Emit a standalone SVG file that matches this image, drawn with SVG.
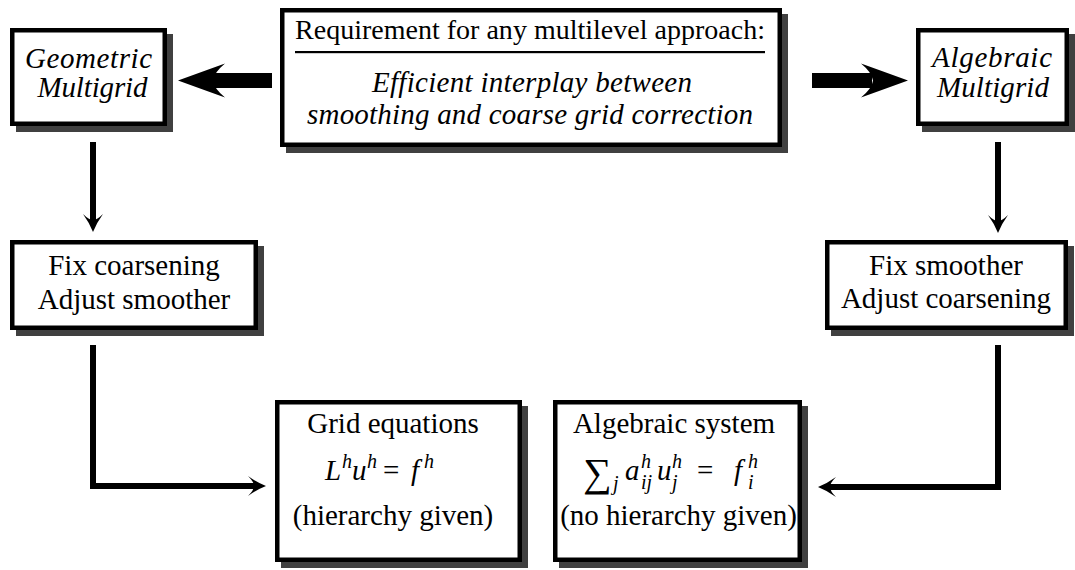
<svg xmlns="http://www.w3.org/2000/svg" xmlns:xlink="http://www.w3.org/1999/xlink" width="1075" height="570" viewBox="0 0 1075 570">
<defs>
<style>
.sh{fill:#404040}
.bx{fill:#fff;stroke:#000;stroke-width:4.5}
.t{font-family:'Liberation Serif','Times New Roman',Tinos,'Noto Serif','DejaVu Serif',Times,serif;font-size:29px;fill:#000}
.c{text-anchor:middle}
.i{font-style:italic;font-size:29px}
.m{font-family:'Liberation Serif','Times New Roman',Tinos,'Noto Serif','DejaVu Serif',Times,serif;font-size:29px;font-style:italic;fill:#000}
.s{font-size:20px}
.ln{fill:none;stroke:#000;stroke-width:6}
</style>
<path id="hd" d="M0,0 Q-9,-3.5 -18,-10 Q-12,-4 -12,0 Q-12,4 -18,10 Q-9,3.5 0,0 Z" fill="#000"/>
<path id="bh" d="M0,0 Q-22,-8 -47,-17 Q-36,-8 -35,0 Q-36,8 -47,17 Q-22,8 0,0 Z" fill="#000"/>
</defs>
<rect width="1075" height="570" fill="#fff"/>

<g id="connectors">
<rect x="210" y="73" width="62" height="15" fill="#000"/>
<use xlink:href="#bh" transform="translate(178,80.5) rotate(180)"/>
<rect x="812" y="73" width="60" height="15" fill="#000"/>
<use xlink:href="#bh" transform="translate(908,80.5)"/>
<path class="ln" d="M93,142 V222"/>
<use xlink:href="#hd" transform="translate(93,232) rotate(90)"/>
<path class="ln" d="M998,142 V223"/>
<use xlink:href="#hd" transform="translate(998,233) rotate(90)"/>
<path class="ln" d="M93,345 V486 H255"/>
<use xlink:href="#hd" transform="translate(266,486)"/>
<path class="ln" d="M998,345 V487 H829"/>
<use xlink:href="#hd" transform="translate(818,487) rotate(180)"/>
</g>

<g id="geometric">
<rect class="sh" x="16" y="34" width="157" height="98"/>
<rect class="bx" x="12.25" y="30.25" width="152.5" height="93.5"/>
<text class="t i" x="25" y="68" textLength="127" lengthAdjust="spacing">Geometric</text>
<text class="t i" x="37.5" y="97" textLength="110" lengthAdjust="spacing">Multigrid</text>
</g>

<g id="requirement">
<rect class="sh" x="286" y="14" width="502" height="139"/>
<rect class="bx" x="282.25" y="10.25" width="497.5" height="134.5"/>
<text class="t" x="295" y="39" style="font-size:28px" textLength="470" lengthAdjust="spacing">Requirement for any multilevel approach:</text>
<rect x="295" y="51" width="470" height="2.2" fill="#000"/>
<text class="t i" x="372" y="92" textLength="320" lengthAdjust="spacing">Efficient interplay between</text>
<text class="t i" x="307" y="124" textLength="446" lengthAdjust="spacing">smoothing and coarse grid correction</text>
</g>

<g id="algebraic">
<rect class="sh" x="922" y="34" width="153" height="98"/>
<rect class="bx" x="918.25" y="30.25" width="148.5" height="93.5"/>
<text class="t i" x="932" y="67" textLength="120" lengthAdjust="spacing">Algebraic</text>
<text class="t i" x="937" y="97" textLength="112" lengthAdjust="spacing">Multigrid</text>
</g>

<g id="fix-coarsening">
<rect class="sh" x="16" y="246" width="248" height="90"/>
<rect class="bx" x="12.25" y="242.25" width="243.5" height="85.5"/>
<text class="t c" x="134" y="275">Fix coarsening</text>
<text class="t c" x="134" y="309">Adjust smoother</text>
</g>

<g id="fix-smoother">
<rect class="sh" x="831" y="246" width="243" height="90"/>
<rect class="bx" x="827.25" y="242.25" width="238.5" height="85.5"/>
<text class="t c" x="946" y="275">Fix smoother</text>
<text class="t c" x="946" y="308">Adjust coarsening</text>
</g>

<g id="grid-equations">
<rect class="sh" x="281" y="406" width="247" height="162"/>
<rect class="bx" x="277.25" y="402.25" width="242.5" height="157.5"/>
<text class="t c" x="393" y="433">Grid equations</text>
<text class="m"><tspan x="325" y="480">L</tspan><tspan class="s" x="342" y="468">h</tspan><tspan x="352" y="480">u</tspan><tspan class="s" x="367" y="468">h</tspan><tspan x="383" y="480" font-style="normal">=</tspan><tspan x="411" y="480">f</tspan><tspan class="s" x="424" y="468">h</tspan></text>
<text class="t c" x="393" y="525">(hierarchy given)</text>
</g>

<g id="algebraic-system">
<rect class="sh" x="559" y="406" width="249" height="162"/>
<rect class="bx" x="555.25" y="402.25" width="244.5" height="157.5"/>
<text class="t c" x="674" y="433">Algebraic system</text>
<text class="m"><tspan x="583" y="486" font-style="normal" font-size="40">∑</tspan><tspan class="s" x="613" y="490">j</tspan><tspan x="625" y="480">a</tspan><tspan class="s" x="641" y="468">h</tspan><tspan class="s" x="641" y="489">ij</tspan><tspan x="657" y="480">u</tspan><tspan class="s" x="672" y="468">h</tspan><tspan class="s" x="672" y="489">j</tspan><tspan x="697" y="480" font-style="normal">=</tspan><tspan x="734" y="480">f</tspan><tspan class="s" x="748" y="468">h</tspan><tspan class="s" x="748" y="489">i</tspan></text>
<text class="t c" x="678.5" y="525">(no hierarchy given)</text>
</g>
</svg>
